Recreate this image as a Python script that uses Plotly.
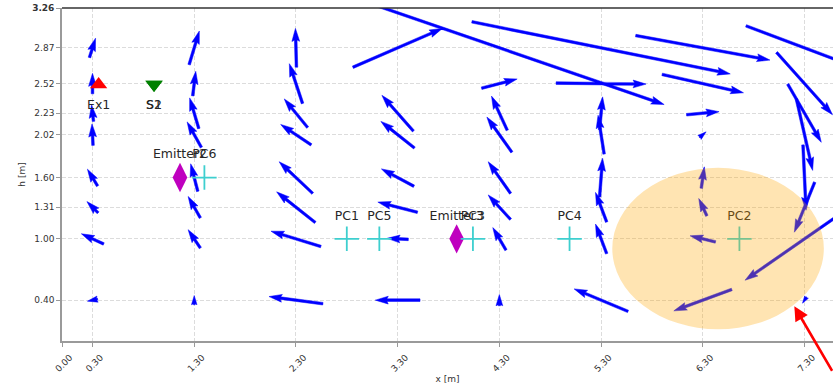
import math
import numpy as np
import plotly.graph_objects as go

# ---------------- data ----------------
x_cols = [0.3, 1.3, 2.3, 3.3, 4.3, 5.3, 6.3, 7.3]
y_rows = [2.87, 2.52, 2.23, 2.02, 1.60, 1.31, 1.00, 0.40]
nan = float("nan")

# u (x-component) per row (rows follow y_rows, columns follow x_cols)
u_287 = [0.06, 0.10, -0.01, 0.88, 3.24, 2.54, 1.32, 1.15]
u_252 = [0.00, 0.03, -0.13, nan, 0.35, 0.885, 0.80, 0.55]
u_223 = [-0.02, -0.09, -0.23, -0.31, -0.155, 0.03, 0.32, 0.33]
u_202 = [-0.01, -0.14, -0.30, -0.33, -0.246, -0.06, 0.065, 0.16]
u_160 = [-0.10, -0.07, -0.33, -0.32, -0.22, 0.03, 0.03, 0.03]
u_131 = [-0.11, -0.12, -0.38, -0.39, -0.22, -0.11, -0.08, -0.20]
u_100 = [-0.22, -0.12, -0.49, -0.21, -0.13, -0.11, -0.25, -1.17]
u_040 = [-0.10, 0.00, -0.53, -0.44, 0.00, -0.53, -0.57, -0.04]

# v (h-component) per row
v_287 = [0.19, 0.33, 0.38, 0.38, -1.11, -0.51, -0.24, -0.43]
v_252 = [0.20, 0.24, 0.39, nan, 0.09, -0.01, -0.18, -0.61]
v_223 = [0.16, 0.30, 0.28, 0.35, 0.335, 0.32, 0.03, -0.57]
v_202 = [0.21, 0.25, 0.20, 0.26, 0.344, 0.38, 0.055, -0.70]
v_160 = [0.165, 0.27, 0.31, 0.17, 0.31, 0.38, 0.21, -0.64]
v_131 = [0.11, 0.21, 0.30, 0.10, 0.24, 0.29, 0.17, -0.49]
v_100 = [0.10, 0.18, 0.15, 0.01, 0.22, 0.29, 0.06, -0.81]
v_040 = [-0.02, 0.09, 0.07, 0.00, 0.11, 0.22, -0.21, -0.06]

U = [u_287, u_252, u_223, u_202, u_160, u_131, u_100, u_040]
V = [v_287, v_252, v_223, v_202, v_160, v_131, v_100, v_040]

# sources / emitters / probes
tx_names = ["Ex1"]
tx_x = [0.36]
tx_y = [2.51]

rx_names = ["S1", "S2"]
rx_x = [0.905, 0.905]
rx_y = [2.51, 2.51]

em_names = ["Emitter2", "Emitter3"]
em_x = [1.16, 3.88]
em_y = [1.60, 1.00]

pc_names = ["PC6", "PC1", "PC5", "PC3", "PC4", "PC2"]
pc_x = [1.40, 2.80, 3.12, 4.04, 4.99, 6.66]
pc_y = [1.60, 1.00, 1.00, 1.00, 1.00, 1.00]

# highlighted zone (ellipse) : center, full width, full height
zone_cx, zone_cy, zone_w, zone_h = 6.45, 0.905, 2.08, 1.58

# pointer annotation target
pointer_x, pointer_y = 7.20, 0.34

x_ticks = [0.0, 0.3, 1.3, 2.3, 3.3, 4.3, 5.3, 6.3, 7.3]
y_ticks = [0.40, 1.00, 1.31, 1.60, 2.02, 2.23, 2.52, 2.87, 3.26]
x_min, x_max = 0.0, 7.58
y_min, y_max = 0.0, 3.26

# ---------------- layout geometry ----------------
W_FIG, H_FIG = 833, 384
M_L, M_R, M_T, M_B = 62, 0, 8, 43
plot_w = W_FIG - M_L - M_R
plot_h = H_FIG - M_T - M_B
sx = plot_w / (x_max - x_min)   # px per data unit (x)
sy = plot_h / (y_max - y_min)   # px per data unit (y)

# quiver arrow style (matplotlib-like), in px
SHAFT = 2.6
HEADW, HEADL, HEADAL = 3.0, 5.0, 4.5
MINSH = 1.0 * HEADL


def arrow_polygon(x0, y0, u, v):
    dx, dy = u * sx, v * sy
    length_px = math.hypot(dx, dy)
    if not np.isfinite(length_px) or length_px == 0:
        return None
    L = length_px / SHAFT
    ang = math.atan2(dy, dx)
    ii = [0, 1, 2, 3, 2, 1, 0, 0]
    if L >= MINSH:
        xb = [0, L - HEADAL, L - HEADL, L]
        yb = [0.5, 0.5, 0.5 * HEADW, 0]
        X = [xb[i] for i in ii]
        Y = [yb[i] for i in ii]
    else:
        xb = [0, MINSH - HEADAL, MINSH - HEADL, MINSH]
        yb = [0.5, 0.5, 0.5 * HEADW, 0]
        s = L / MINSH
        X = [s * xb[i] for i in ii]
        Y = [s * yb[i] for i in ii]
    for k in range(3, 7):
        Y[k] = -Y[k]
    mid = X[3] / 2.0
    X = [xx - mid for xx in X]
    ca, sa = math.cos(ang), math.sin(ang)
    px = [SHAFT * (xx * ca - yy * sa) for xx, yy in zip(X, Y)]
    py = [SHAFT * (xx * sa + yy * ca) for xx, yy in zip(X, Y)]
    return [x0 + p / sx for p in px], [y0 + q / sy for q in py]


ax_all, ay_all = [], []
for r, yv in enumerate(y_rows):
    for c, xv in enumerate(x_cols):
        poly = arrow_polygon(xv, yv, U[r][c], V[r][c])
        if poly is None:
            continue
        ax_all += poly[0] + [None]
        ay_all += poly[1] + [None]

fig = go.Figure()

fig.add_trace(go.Scatter(
    x=ax_all, y=ay_all, mode="lines", fill="toself",
    fillcolor="#0000ff", line=dict(color="#0000ff", width=0.5),
    hoverinfo="skip", showlegend=False))

# markers
fig.add_trace(go.Scatter(x=tx_x, y=tx_y, mode="markers",
                         marker=dict(symbol="triangle-up", size=15, color="#ff0000"),
                         showlegend=False))
fig.add_trace(go.Scatter(x=rx_x, y=rx_y, mode="markers",
                         marker=dict(symbol="triangle-down", size=15, color="#008000"),
                         showlegend=False))
fig.add_trace(go.Scatter(x=em_x, y=em_y, mode="markers",
                         marker=dict(symbol="diamond-tall", size=21, color="#bf00bf"),
                         showlegend=False))
fig.add_trace(go.Scatter(x=pc_x, y=pc_y, mode="markers",
                         marker=dict(symbol="cross-thin", size=17.5,
                                     line=dict(color="#3ecfcf", width=1.8)),
                         showlegend=False))

# labels
LABEL_UP = 0.22
LABEL_DOWN = -0.21
label_font = dict(family="DejaVu Sans", size=12.5, color="#262626")
fig.add_trace(go.Scatter(x=tx_x + rx_x, y=[y + LABEL_DOWN for y in tx_y + rx_y],
                         mode="text", text=tx_names + rx_names,
                         textposition="middle center", textfont=label_font,
                         showlegend=False, hoverinfo="skip"))
fig.add_trace(go.Scatter(x=em_x + pc_x, y=[y + LABEL_UP for y in em_y + pc_y],
                         mode="text", text=em_names + pc_names,
                         textposition="middle center", textfont=label_font,
                         showlegend=False, hoverinfo="skip"))

# highlighted ellipse drawn over everything
fig.add_shape(type="circle", xref="x", yref="y",
              x0=zone_cx - zone_w / 2, x1=zone_cx + zone_w / 2,
              y0=zone_cy - zone_h / 2, y1=zone_cy + zone_h / 2,
              fillcolor="rgba(255,165,0,0.3)", line=dict(width=0), layer="above")

# top spine
fig.add_shape(type="line", xref="paper", yref="paper", x0=0, x1=1, y0=1, y1=1,
              line=dict(color="#333333", width=1.4), layer="above")

# red pointer
fig.add_annotation(x=pointer_x, y=pointer_y, xref="x", yref="y",
                   ax=62, ay=66, text="", showarrow=True,
                   arrowhead=2, arrowsize=1.1, arrowwidth=2.6, arrowcolor="#ff0000")

y_ticktext = [f"{t:.2f}" for t in y_ticks]
y_ticktext[-1] = "<b>" + y_ticktext[-1] + "</b>"

tick_font = dict(family="DejaVu Sans", size=9, color="#333333")
fig.update_xaxes(range=[x_min, x_max], tickvals=x_ticks,
                 ticktext=[f"{t:.2f}" for t in x_ticks], tickangle=-45,
                 ticklabelshift=8, ticklabelstandoff=2,
                 tickfont=tick_font, ticks="outside", ticklen=4, tickcolor="#999999",
                 showline=True, linecolor="#9a9a9a", linewidth=1.6,
                 showgrid=True, gridcolor="#dcdcdc", griddash="4px,2px", gridwidth=1,
                 zeroline=False,
                 title=dict(text="x [m]", font=dict(family="DejaVu Sans", size=9, color="#333333"),
                            standoff=4))
fig.update_yaxes(range=[y_min, y_max], tickvals=y_ticks,
                 ticktext=y_ticktext,
                 tickfont=tick_font, ticks="outside", ticklen=4, tickcolor="#999999",
                 showline=True, linecolor="#9a9a9a", linewidth=1.6,
                 showgrid=True, gridcolor="#dcdcdc", griddash="4px,2px", gridwidth=1,
                 zeroline=False,
                 title=dict(text="h [m]", font=dict(family="DejaVu Sans", size=9, color="#333333"),
                            standoff=5))

fig.update_layout(width=W_FIG, height=H_FIG,
                  margin=dict(l=M_L, r=M_R, t=M_T, b=M_B, pad=0),
                  paper_bgcolor="white", plot_bgcolor="white",
                  font=dict(family="DejaVu Sans"), showlegend=False)

fig.write_html("out.html", config={"displayModeBar": False},
               post_script="document.body.style.margin='0px';document.body.style.overflow='hidden';")
